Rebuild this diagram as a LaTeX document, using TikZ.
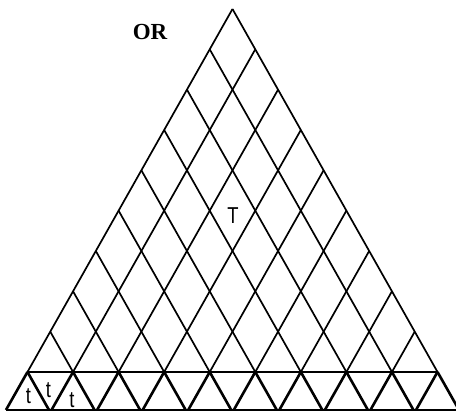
\documentclass[tikz,border=0pt]{standalone}
\usepackage{fontspec}
\setmainfont{Liberation Serif}
\setsansfont{Liberation Sans}
\usetikzlibrary{calc}
\begin{document}
\begin{tikzpicture}[x=1pt, y=-1pt,
    grid/.style={line width=1.7pt},
    foot/.style={line width=2.6pt},
    tlabel/.style={font=\sffamily\fontsize{23}{23}\selectfont, inner sep=0pt, xscale=0.8},
  ]
  \useasboundingbox (0,0) rectangle (456,412);
  \clip (0,0) rectangle (456,412);

  \coordinate (apex) at (232.5,9);
  % one level down along each side
  \coordinate (dl) at (-22.78,40.33);
  \coordinate (dr) at (22.78,40.33);

  % the two families of lines, heavier in the bottom row
  \foreach \j in {0,...,9} {
    \pgfmathsetmacro\k{9-\j}
    \draw[grid] ($(apex)+\j*(dr)$) -- ($(apex)+\j*(dr)+\k*(dl)$) coordinate (a\j);
    \draw[foot] (a\j) -- ++(-21.5,38);
    \draw[grid] ($(apex)+\j*(dl)$) -- ($(apex)+\j*(dl)+\k*(dr)$) coordinate (b\j);
    \draw[foot] (b\j) -- ++(21.5,38);
  }

  % horizontal lines
  \draw[grid] (a0) -- (b0);
  \draw[grid] ($(a0)+(-21.5,38)$) -- ($(b0)+(21.5,38)$);

  \node[font=\bfseries\fontsize{23}{23}\selectfont, inner sep=0pt] (or) at (150,32) {OR};
  \node[tlabel, font=\sffamily\fontsize{23}{23}\selectfont] (big) at (233,216) {T};
  \node[tlabel] (t1) at (28.5,396) {t};
  \node[tlabel] (t2) at (48.5,390) {t};
  \node[tlabel] (t3) at (72,400) {t};
\end{tikzpicture}
\end{document}
